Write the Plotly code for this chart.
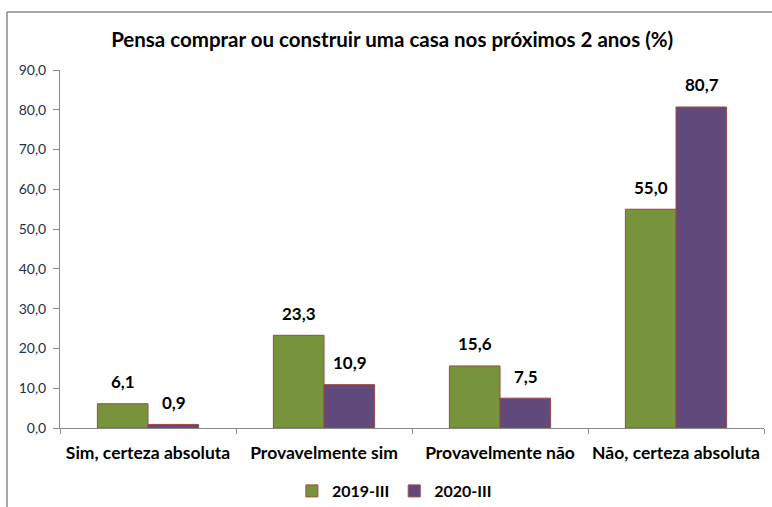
import plotly.graph_objects as go

categories = ["Sim, certeza absoluta", "Provavelmente sim", "Provavelmente não", "Não, certeza absoluta"]
series_names = ["2019-III", "2020-III"]
values_2019 = [6.1, 23.3, 15.6, 55.0]
values_2020 = [0.9, 10.9, 7.5, 80.7]
y_ticks = [0, 10, 20, 30, 40, 50, 60, 70, 80, 90]

colors = ["#77933C", "#604A7B"]
outline = "#A04848"
FONT = "Lato"

fig = go.Figure()
for name, vals, col in zip(series_names, [values_2019, values_2020], colors):
    fig.add_trace(go.Bar(
        x=categories, y=vals, name=name,
        marker=dict(color=col, line=dict(color=outline, width=1)),
    ))

for vals, shift in zip([values_2019, values_2020], [-25.5, 25.5]):
    for c, v in zip(categories, vals):
        fig.add_annotation(
            x=c, y=v, xref="x", yref="y", text=f"{v:.1f}".replace(".", ","),
            showarrow=False, xshift=shift, yshift=22,
            font=dict(family=FONT, size=17, color="#000000", weight="bold"),
        )

fig.update_layout(
    width=772, height=507,
    margin=dict(l=60, r=8, t=70, b=79, autoexpand=False),
    paper_bgcolor="white", plot_bgcolor="white",
    barmode="group", bargap=0.425, bargroupgap=0,
    separators=",.",
    title=dict(text="<b>Pensa comprar ou construir uma casa nos próximos 2 anos (%)</b>",
               x=0.508, xanchor="center", y=0.921, yanchor="middle",
               font=dict(family=FONT, size=20.5, color="#000000")),
    showlegend=True,
    legend=dict(orientation="h", x=0.475, xanchor="center", y=-0.176, yanchor="middle",
                font=dict(family=FONT, size=16, color="#000000", weight="bold"),
                itemwidth=30, traceorder="normal"),
    font=dict(family=FONT, color="#000000"),
    shapes=[
        dict(type="line", xref="paper", yref="paper", x0=-0.0753, x1=1.02, y0=1.162, y1=1.162,
             line=dict(color="#888888", width=1.5)),
        dict(type="line", xref="paper", yref="paper", x0=-0.0753, x1=-0.0753, y0=1.162, y1=-0.25,
             line=dict(color="#888888", width=1.5)),
    ],
)

fig.update_yaxes(
    range=[0, 90], tickvals=y_ticks, tickformat=".1f", automargin=False,
    showgrid=False, zeroline=False, showline=True, linecolor="#888888", linewidth=1,
    ticks="outside", ticklen=6, tickcolor="#888888", ticklabelstandoff=4,
    tickfont=dict(family=FONT, size=14, color="#1F2F4F"),
)
fig.update_xaxes(
    automargin=False, tickangle=0,
    showgrid=False, showline=True, linecolor="#888888", linewidth=1,
    ticks="outside", tickson="boundaries", ticklen=5, tickcolor="#888888",
    ticklabelstandoff=9,
    tickfont=dict(family=FONT, size=17.5, color="#000000", weight="bold"),
)

fig.write_html("out.html", config={"displayModeBar": False},
               post_script="document.body.style.margin='0';")
